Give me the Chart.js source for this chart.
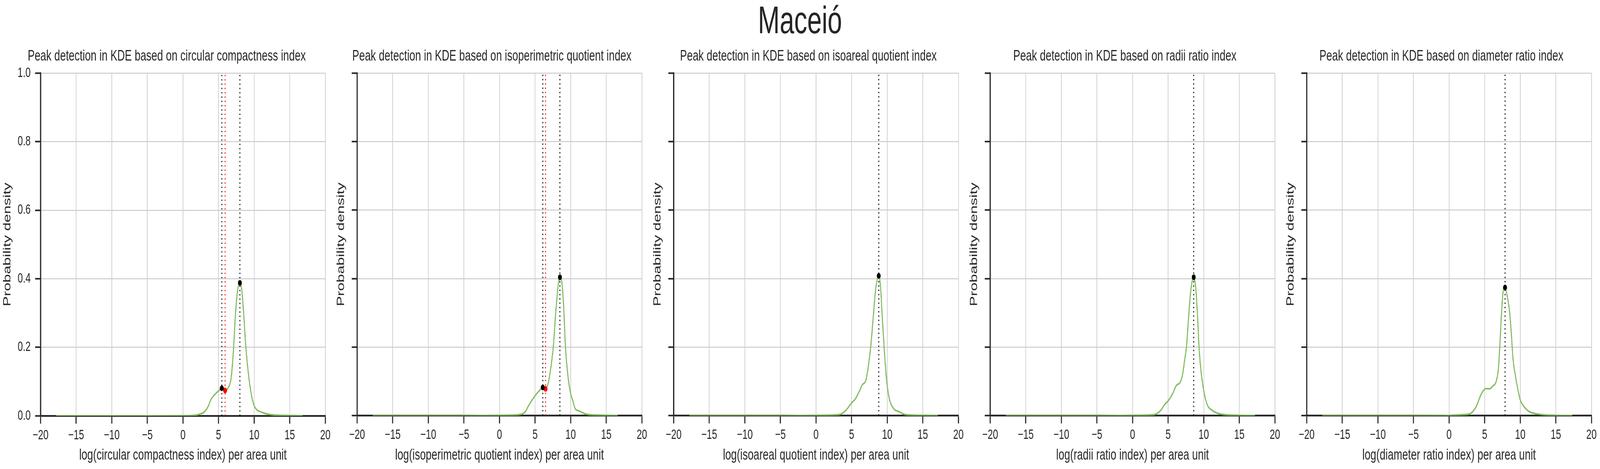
<!DOCTYPE html>
<html>
<head>
<meta charset="utf-8">
<script src="https://cdn.jsdelivr.net/npm/chart.js@4.4.1/dist/chart.umd.min.js"></script>
<style>
  html, body { margin: 0; padding: 0; background: #fff; overflow: hidden; }
  #fig { position: absolute; left: 0; top: 0; width: 6000px; height: 1200px; background: #fff;
         transform-origin: 0 0; }
  #suptitle { position: absolute; left: 0; top: 2px; width: 6000px; text-align: center;
              font: 98px/98px Arial, "Liberation Sans", sans-serif; color: #262626; }
  canvas { position: absolute; }
</style>
</head>
<body>
<div id="fig">
  <div id="suptitle">Maceió</div>
</div>
<script>
// index names, one per panel
const indexNames = ['circular compactness', 'isoperimetric quotient', 'isoareal quotient', 'radii ratio', 'diameter ratio'];

// tick values
const xTickValues = [-20, -15, -10, -5, 0, 5, 10, 15, 20];
const yTickValues = [0, 0.2, 0.4, 0.6, 0.8, 1.0];

// KDE curves
const ccX = [-17.8, -5, 0, 1.5, 2.2, 3.03, 3.53, 3.9, 4.28, 4.65, 5.02, 5.46, 5.92, 6.4, 6.77, 7.08, 7.39, 7.7, 8.0, 8.27, 8.52, 8.83, 9.26, 9.76, 10.14, 11.13, 12.38, 15, 16.8];
const ccY = [0, 0, 0.0005, 0.0015, 0.004, 0.012, 0.027, 0.046, 0.058, 0.066, 0.073, 0.0805, 0.074, 0.084, 0.111, 0.187, 0.301, 0.369, 0.388, 0.366, 0.301, 0.202, 0.111, 0.046, 0.024, 0.010, 0.0034, 0.001, 0.0002];

const iqX = [-17.8, -5, 0.3, 2.78, 3.65, 4.03, 5.0, 5.52, 6.08, 6.47, 6.9, 7.27, 7.58, 7.9, 8.27, 8.49, 8.77, 9.02, 9.26, 9.64, 10.02, 10.27, 10.64, 11.14, 12.14, 14.0, 16.6];
const iqY = [0, 0, 0.001, 0.003, 0.012, 0.027, 0.058, 0.071, 0.082, 0.078, 0.1, 0.149, 0.206, 0.301, 0.385, 0.404, 0.388, 0.316, 0.202, 0.111, 0.062, 0.046, 0.020, 0.014, 0.0046, 0.0015, 0.0004];

const iaX = [-17.8, -5, 0, 3.25, 4.13, 5.0, 5.5, 6.13, 6.5, 7.0, 7.38, 7.69, 8.0, 8.38, 8.81, 9.06, 9.31, 9.56, 9.88, 10.25, 11.0, 11.5, 12.5, 15, 17.1];
const iaY = [0, 0, 0.001, 0.003, 0.014, 0.037, 0.048, 0.073, 0.09, 0.103, 0.149, 0.202, 0.278, 0.369, 0.408, 0.377, 0.286, 0.202, 0.111, 0.054, 0.018, 0.013, 0.0034, 0.001, 0.0004];

const rrX = [-17.8, -5, 0.16, 3.03, 3.9, 4.53, 5.0, 5.65, 6.15, 6.65, 7.02, 7.33, 7.58, 7.89, 8.2, 8.59, 8.89, 9.14, 9.33, 9.64, 10.07, 10.51, 11.13, 12.38, 15, 17.2];
const rrY = [0, 0, 0.001, 0.003, 0.014, 0.033, 0.043, 0.065, 0.088, 0.096, 0.119, 0.164, 0.202, 0.293, 0.369, 0.404, 0.369, 0.286, 0.202, 0.126, 0.065, 0.031, 0.016, 0.0046, 0.001, 0.0004];

const drX = [-17.8, -5, -0.5, 2.0, 2.88, 3.75, 4.5, 5.0, 5.25, 5.69, 6.12, 6.62, 6.93, 7.12, 7.37, 7.62, 7.86, 8.12, 8.49, 8.74, 8.99, 9.36, 9.99, 10.36, 11.23, 12.48, 15, 17.3];
const drY = [0, 0, 0.0003, 0.003, 0.005, 0.024, 0.062, 0.077, 0.079, 0.078, 0.086, 0.1, 0.138, 0.202, 0.301, 0.366, 0.374, 0.354, 0.305, 0.24, 0.164, 0.111, 0.046, 0.031, 0.012, 0.0046, 0.001, 0.0004];

// detected peaks (black) and valleys (red)
const ccPeakX = [5.46, 8.0];   const ccPeakY = [0.0805, 0.388];
const ccValleyX = [5.92];      const ccValleyY = [0.074];
const iqPeakX = [6.08, 8.49];  const iqPeakY = [0.082, 0.404];
const iqValleyX = [6.47];      const iqValleyY = [0.078];
const iaPeakX = [8.81];        const iaPeakY = [0.408];
const rrPeakX = [8.59];        const rrPeakY = [0.404];
const drPeakX = [7.86];        const drPeakY = [0.374];

const curveX = [ccX, iqX, iaX, rrX, drX];
const curveY = [ccY, iqY, iaY, rrY, drY];
const peakX = [ccPeakX, iqPeakX, iaPeakX, rrPeakX, drPeakX];
const peakY = [ccPeakY, iqPeakY, iaPeakY, rrPeakY, drPeakY];
const valleyX = [ccValleyX, iqValleyX, [], [], []];
const valleyY = [ccValleyY, iqValleyY, [], [], []];

// layout (in 6000x1200 figure units)
const FONT = 'Arial, "Liberation Sans", sans-serif';
const INK = '#262626';
const GREEN = '#80bc5c';
const PLOT_W = 1068, PLOT_H = 877, PLOT_TOP = 187;
const FIRST_LEFT = 151.5, PITCH = 1187;

const fig = document.getElementById('fig');
// fit the 6000x1200 figure into whatever viewport we actually get
fig.style.transform = 'scale(' + (window.innerWidth / 6000) + ',' + (window.innerHeight / 1200) + ')';

function fmtX(v) {
    return v < 0 ? '\u2212' + Math.abs(v) : String(v);
}

function pts(xs, ys) {
    return xs.map((x, k) => ({ x: x, y: ys[k] }));
}

function vline(x, color) {
    return {
        data: [{ x: x, y: 0 }, { x: x, y: 1 }],
        borderColor: color,
        borderWidth: 3.3,
        borderDash: [3.3, 7.7],
        pointRadius: 0,
        order: 1
    };
}

function makePanel(i) {
    const canvas = document.createElement('canvas');
    const yW = i === 0 ? 150 : 86;
    canvas.width = yW + PLOT_W + 40;
    canvas.height = 1200;
    fig.appendChild(canvas);

    const datasets = [];
    // markers on top
    datasets.push({
        data: pts(peakX[i], peakY[i]),
        showLine: false,
        pointRadius: 7.3,
        pointBorderWidth: 0,
        pointBackgroundColor: '#000',
        order: 0
    });
    if (valleyX[i].length) {
        datasets.push({
            data: pts(valleyX[i], valleyY[i]),
            showLine: false,
            pointRadius: 7.3,
            pointBorderWidth: 0,
            pointBackgroundColor: '#ff0000',
            order: 0
        });
    }
    peakX[i].forEach(v => datasets.push(vline(v, '#000')));
    valleyX[i].forEach(v => datasets.push(vline(v, '#ff0000')));
    // the KDE curve
    datasets.push({
        data: pts(curveX[i], curveY[i]),
        borderColor: GREEN,
        borderWidth: 4,
        pointRadius: 0,
        cubicInterpolationMode: 'monotone',
        order: 2
    });

    const chart = new Chart(canvas, {
        type: 'line',
        data: { datasets: datasets },
        options: {
            responsive: false,
            animation: false,
            devicePixelRatio: 1,
            layout: { padding: 0 },
            plugins: {
                legend: { display: false },
                tooltip: { enabled: false },
                title: {
                    display: true,
                    text: 'Peak detection in KDE based on ' + indexNames[i] + ' index',
                    font: { family: FONT, size: 39, weight: 'normal' },
                    color: INK,
                    padding: { top: 120.6, bottom: 19.6 }
                }
            },
            scales: {
                x: {
                    type: 'linear',
                    min: -20, max: 20,
                    afterBuildTicks: s => { s.ticks = xTickValues.map(v => ({ value: v })); },
                    afterFit: s => { s.height = 125; },
                    ticks: {
                        font: { family: FONT, size: 35 }, color: INK, padding: 9,
                        maxRotation: 0, autoSkip: false, callback: v => fmtX(v)
                    },
                    grid: { color: '#cccccc', lineWidth: 2.5, tickColor: INK, tickWidth: 4, tickLength: 20 },
                    border: { display: true, color: INK, width: 4.5 },
                    title: {
                        display: true,
                        text: 'log(' + indexNames[i] + ' index) per area unit',
                        font: { family: FONT, size: 39 }, color: INK,
                        padding: { top: 0, bottom: 0 }
                    }
                },
                y: {
                    min: 0, max: 1,
                    afterBuildTicks: s => { s.ticks = yTickValues.map(v => ({ value: v })); },
                    afterFit: s => { s.width = yW; },
                    ticks: {
                        display: i === 0,
                        font: { family: FONT, size: 35 }, color: INK, padding: 17,
                        callback: v => v.toFixed(1)
                    },
                    grid: { color: '#cccccc', lineWidth: 2.5, tickColor: INK, tickWidth: 4, tickLength: 20 },
                    border: { display: true, color: INK, width: 4.5 },
                    title: {
                        display: true,
                        text: 'Probability density',
                        font: { family: FONT, size: 39 }, color: INK,
                        padding: { top: 3.2, bottom: 0 }
                    }
                }
            }
        }
    });

    // size the canvas so the plot area matches, then move it into place
    const a = chart.chartArea;
    chart.resize(chart.width + (PLOT_W - (a.right - a.left)), chart.height + (PLOT_H - (a.bottom - a.top)));
    const b = chart.chartArea;
    canvas.style.left = (FIRST_LEFT + i * PITCH - b.left) + 'px';
    canvas.style.top = (PLOT_TOP - b.top) + 'px';
}

for (let i = 0; i < indexNames.length; i++) makePanel(i);
</script>
</body>
</html>
